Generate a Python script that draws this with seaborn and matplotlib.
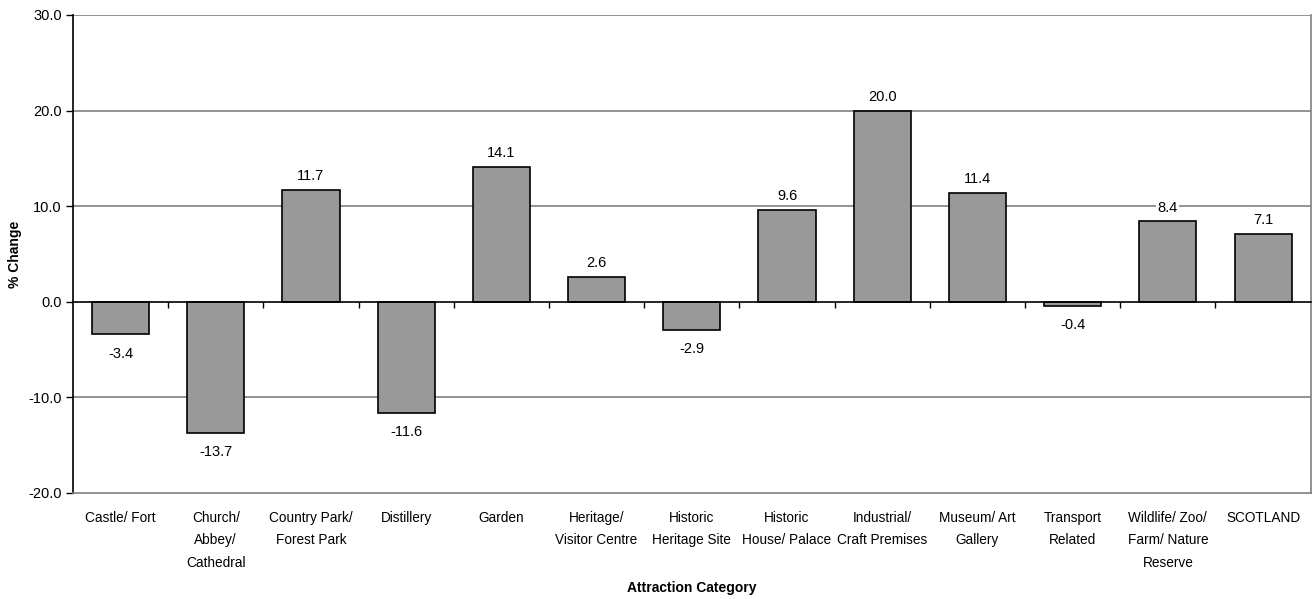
import matplotlib
matplotlib.use("Agg")
import matplotlib.pyplot as plt
import matplotlib.font_manager as fm
import numpy as np
import pandas as pd
import seaborn as sns

categories = [
    "Castle/ Fort", "Church/\nAbbey/\nCathedral", "Country Park/\nForest Park",
    "Distillery", "Garden", "Heritage/\nVisitor Centre", "Historic\nHeritage Site",
    "Historic\nHouse/ Palace", "Industrial/\nCraft Premises", "Museum/ Art\nGallery",
    "Transport\nRelated", "Wildlife/ Zoo/\nFarm/ Nature\nReserve", "SCOTLAND",
]
pct_change = [-3.4, -13.7, 11.7, -11.6, 14.1, 2.6, -2.9, 9.6, 20.0, 11.4, -0.4, 8.4, 7.1]
y_ticks = [-20, -10, 0, 10, 20, 30]

sns.set_theme(style="white")
names = {f.name for f in fm.fontManager.ttflist}
family = "Liberation Sans Narrow" if "Liberation Sans Narrow" in names else "Liberation Sans"
plt.rcParams["font.family"] = [family, "DejaVu Sans"]
plt.rcParams.update({"text.color": "black", "axes.labelcolor": "black",
                     "xtick.color": "black", "ytick.color": "black"})

df = pd.DataFrame({"category": categories, "change": pct_change})

fig = plt.figure(figsize=(13.12, 5.99), dpi=100)
ax = fig.add_axes([0.0556, 0.177, 0.9434, 0.798])

sns.barplot(data=df, x="category", y="change", color="#999999", saturation=1,
            edgecolor="black", linewidth=1.2, width=0.6, ax=ax)

ax.set_ylim(y_ticks[0], y_ticks[-1])
ax.set_xlim(-0.5, len(categories) - 0.5)
ax.set_yticks(y_ticks)
ax.set_yticklabels([f"{v:.1f}" for v in y_ticks], fontsize=10.5)
for v in y_ticks[1:]:
    if v != 0:
        ax.axhline(v, color="#808080", lw=1.2, zorder=0)

ax.tick_params(axis="x", length=0, labelsize=9.8, pad=13)
for lbl in ax.get_xticklabels():
    lbl.set_linespacing(1.75)
ax.tick_params(axis="y", left=True, length=5, width=1, color="black", pad=3)
ax.spines["left"].set_color("black")
ax.spines["left"].set_linewidth(1.2)
for s in ["right", "bottom"]:
    ax.spines[s].set_color("#808080")
    ax.spines[s].set_linewidth(1.2)
ax.spines["top"].set_visible(False)

# zero axis with ticks between categories
ax2 = ax.twiny()
ax2.set_xlim(ax.get_xlim())
ax2.spines["bottom"].set_position(("data", 0))
for s in ["top", "left", "right"]:
    ax2.spines[s].set_visible(False)
ax2.spines["bottom"].set_color("black")
ax2.spines["bottom"].set_linewidth(1.2)
ax2.xaxis.set_ticks_position("bottom")
ax2.set_xticks(np.arange(len(categories) - 1) + 0.5)
ax2.set_xticklabels([])
ax2.tick_params(axis="x", length=4, width=1, color="black", direction="out")

for i, v in enumerate(pct_change):
    off = 5 if v >= 0 else -9
    ax.annotate(f"{v:.1f}", (i, v), xytext=(0, off), textcoords="offset points",
                ha="center", va="bottom" if v >= 0 else "top", fontsize=10.5,
                bbox=dict(boxstyle="square,pad=0.1", fc="white", ec="none"))

ax.set_xlabel("Attraction Category", fontsize=10, fontweight="bold")
ax.set_ylabel("% Change", fontsize=10, fontweight="bold")
ax.xaxis.set_label_coords(0.5, -0.199)
ax.yaxis.set_label_coords(-0.047, 0.5)
ax.xaxis.label.set_va("center")
ax.yaxis.label.set_va("center")

fig.savefig("out.png", dpi=100)
